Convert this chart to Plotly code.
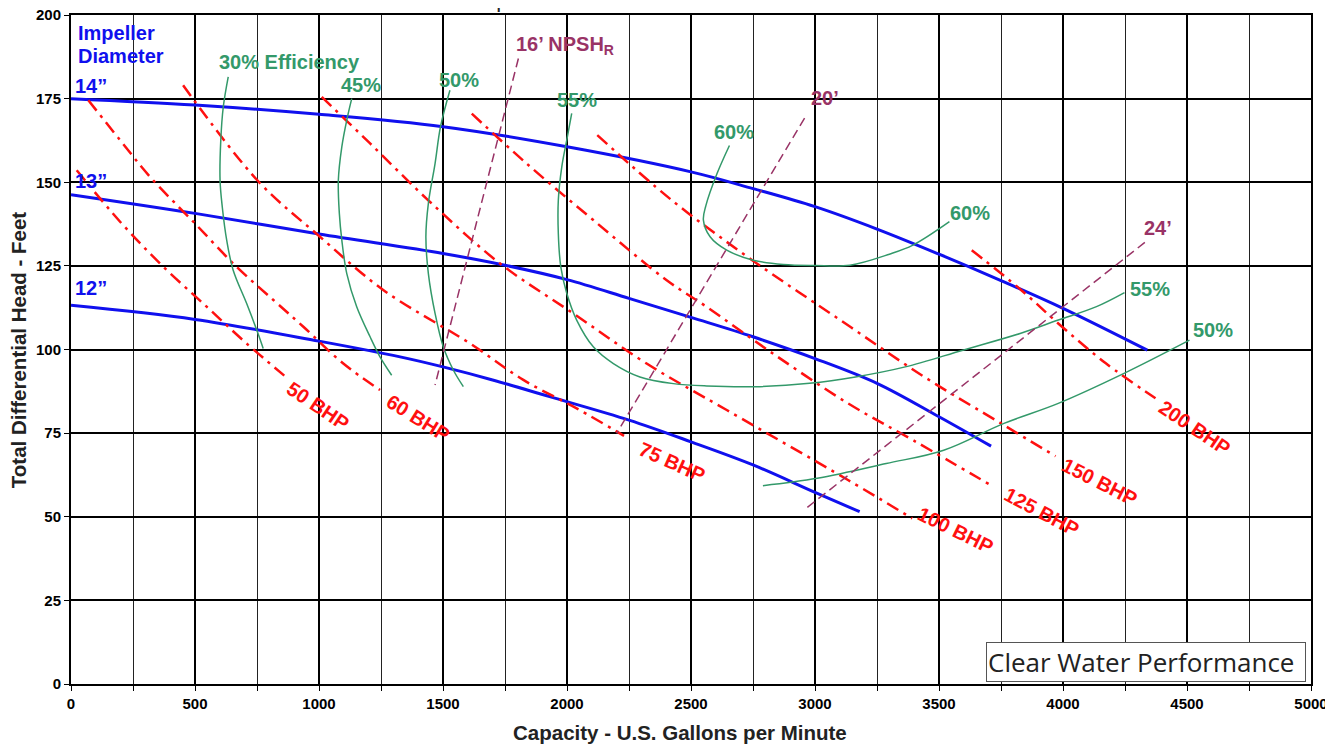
import plotly.graph_objects as go

# impeller head curves (capacity gpm, head ft)
imp14_q = [0, 500, 1000, 1500, 2000, 2500, 2750, 3000, 3250, 3500, 3750, 4000, 4340]
imp14_h = [175, 173.1, 170.3, 166.6, 160.6, 153.1, 148.1, 142.7, 136.0, 128.5, 120.6, 112.3, 99.8]
imp13_q = [0, 500, 1000, 1500, 1750, 2000, 2250, 2500, 2750, 3000, 3250, 3500, 3710]
imp13_h = [146.3, 140.7, 134.5, 128.7, 125.2, 120.9, 115.3, 109.6, 103.8, 97.3, 89.9, 79.9, 71.1]
imp12_q = [0, 500, 1000, 1327, 1500, 1700, 1930, 2250, 2500, 2750, 3000, 3180]
imp12_h = [113.2, 109.0, 102.5, 97.8, 94.8, 90.9, 85.9, 78.9, 72.4, 65.5, 57.3, 51.5]

# brake horsepower lines
bhp50_q = [23, 198, 366, 547, 708, 860]
bhp50_h = [153.6, 138.2, 125.2, 112.8, 101.8, 92.2]
bhp60_q = [70, 198, 319, 493, 668, 816, 937, 1098, 1246]
bhp60_h = [174.5, 162.6, 151.6, 138.2, 124.7, 114.8, 106.8, 95.8, 87.9]
bhp75_q = [452, 755, 1004, 1259, 1609, 1824, 2039, 2230]
bhp75_h = [179.0, 150.3, 133.7, 117.8, 101.8, 90.9, 82.4, 74.2]
bhp100_q = [1011, 1206, 1448, 1730, 2025, 2321, 2644, 3133, 3392]
bhp100_h = [175.5, 161.6, 144.1, 125.7, 110.8, 95.8, 81.9, 61.0, 49.5]
bhp125_q = [1616, 1837, 2106, 2402, 2562, 2830, 3133, 3395, 3719]
bhp125_h = [170.5, 155.6, 138.7, 120.7, 112.8, 98.8, 83.9, 72.9, 59.0]
bhp150_q = [2122, 2423, 2747, 3102, 3441, 3750, 3970]
bhp150_h = [164.1, 144.6, 126.7, 108.8, 91.8, 77.9, 68.1]
bhp200_q = [3632, 3831, 3996, 4174, 4373]
bhp200_h = [129.7, 117.8, 106.8, 95.8, 85.4]

# efficiency iso-lines
eff30_q = [634, 614, 604, 601, 610, 628, 654, 708, 749, 775]
eff30_h = [181.5, 172.5, 162.6, 150.6, 142.6, 132.6, 123.7, 113.8, 105.8, 100.3]
eff45_q = [1132, 1112, 1092, 1078, 1082, 1092, 1112, 1152, 1206, 1246, 1293]
eff45_h = [175.0, 168.6, 160.6, 150.6, 140.7, 132.7, 122.7, 112.8, 103.8, 97.8, 92.3]
eff50a_q = [1528, 1490, 1468, 1441, 1431, 1441, 1468, 1501, 1542, 1582]
eff50a_h = [177.5, 166.6, 155.6, 143.7, 133.7, 122.7, 110.8, 100.8, 93.8, 88.9]
eff55_q = [2019, 1999, 1979, 1965, 1965, 1975, 1999, 2039, 2106, 2187, 2294, 2429,
           2563, 2762, 2978, 3163, 3364, 3596, 3827, 3981, 4135, 4248]
eff55_h = [170.6, 162.6, 154.6, 144.6, 134.7, 124.7, 116.8, 108.8, 100.8, 95.8, 91.8, 89.8,
           89.1, 88.9, 89.9, 91.8, 94.8, 99.8, 104.8, 108.8, 112.8, 117.0]
eff60_q = [2655, 2605, 2560, 2550, 2577, 2644, 2751, 2872, 3000, 3141, 3300, 3395, 3542]
eff60_h = [161.0, 152.6, 143.0, 138.7, 133.7, 129.7, 126.7, 125.4, 125.1, 125.2, 128.5, 131.2, 138.2]
eff50b_q = [2790, 3009, 3287, 3519, 3762, 3981, 4244, 4510]
eff50b_h = [59.3, 61.5, 65.9, 69.9, 77.9, 83.9, 92.8, 102.8]

# NPSHr lines
npsh16_q = [1804, 1468]
npsh16_h = [187.0, 89.4]
npsh20_q = [2958, 2200]
npsh20_h = [169.2, 74.9]
npsh24_q = [4330, 2969]
npsh24_h = [132.0, 52.8]

x_ticks = list(range(0, 5001, 500))
y_ticks = list(range(0, 201, 25))

BLUE = '#1010EE'
RED = '#FF1010'
GREEN = '#33996A'
PURPLE = '#993366'
FONT = 'Liberation Sans, Arial, sans-serif'

fig = go.Figure()

for q, h in [(imp14_q, imp14_h), (imp13_q, imp13_h), (imp12_q, imp12_h)]:
    fig.add_trace(go.Scatter(x=q, y=h, mode='lines', line=dict(color=BLUE, width=3, shape='spline'),
                             hoverinfo='skip'))

for q, h in [(bhp50_q, bhp50_h), (bhp60_q, bhp60_h), (bhp75_q, bhp75_h), (bhp100_q, bhp100_h),
             (bhp125_q, bhp125_h), (bhp150_q, bhp150_h), (bhp200_q, bhp200_h)]:
    fig.add_trace(go.Scatter(x=q, y=h, mode='lines',
                             line=dict(color=RED, width=2.5, shape='spline', dash='13px,6px,3px,6px'),
                             hoverinfo='skip'))

for q, h in [(eff30_q, eff30_h), (eff45_q, eff45_h), (eff50a_q, eff50a_h), (eff55_q, eff55_h),
             (eff60_q, eff60_h), (eff50b_q, eff50b_h)]:
    fig.add_trace(go.Scatter(x=q, y=h, mode='lines', line=dict(color=GREEN, width=1.5, shape='spline'),
                             hoverinfo='skip'))

for q, h in [(npsh16_q, npsh16_h), (npsh20_q, npsh20_h), (npsh24_q, npsh24_h)]:
    fig.add_trace(go.Scatter(x=q, y=h, mode='lines', line=dict(color=PURPLE, width=1.5, dash='9px,5px'),
                             hoverinfo='skip'))

annotations = []


def label(x, y, text, color, size=20, angle=0, xanchor='center'):
    annotations.append(dict(x=x, y=y, text=text, showarrow=False, textangle=angle, xanchor=xanchor,
                            font=dict(family=FONT, size=size, color=color, weight='bold')))


label(22, 194.6, 'Impeller', BLUE, xanchor='left')
label(22, 187.7, 'Diameter', BLUE, xanchor='left')
label(8, 178.9, '14”', BLUE, xanchor='left')
label(8, 150.4, '13”', BLUE, xanchor='left')
label(8, 118.3, '12”', BLUE, xanchor='left')

for x, y, t, a in [(996, 83.1, '50 BHP', 34), (1399, 79.5, '60 BHP', 32), (2423, 66.3, '75 BHP', 24),
                   (3565, 46.0, '100 BHP', 26), (3915, 51.4, '125 BHP', 28),
                   (4149, 60.4, '150 BHP', 27), (4532, 76.5, '200 BHP', 34)]:
    label(x, y, t, RED, angle=a)

for x, y, t in [(883, 185.9, '30% Efficiency'), (1169, 179.0, '45%'), (1565, 180.5, '50%'),
                (2040, 174.5, '55%'), (2673, 165.0, '60%'), (3625, 140.8, '60%'),
                (4351, 118.0, '55%'), (4605, 105.8, '50%')]:
    label(x, y, t, GREEN)

label(1992, 191.0, '16’ NPSH<sub>R</sub>', PURPLE)
label(3040, 175.3, '20’', PURPLE)
label(4383, 136.3, '24’', PURPLE)

annotations.append(dict(x=4335, y=6.6, text='Clear Water Performance', showarrow=False,
                        font=dict(family='Open Sans, sans-serif', size=26, color='#222222'),
                        bgcolor='white', bordercolor='#555555', borderwidth=1, borderpad=1,
                        width=316, height=36, align='left'))

# axis titles
annotations.append(dict(xref='paper', yref='paper', x=0.491, y=-0.0732, xanchor='center',
                        yanchor='middle', text='Capacity - U.S. Gallons per Minute', showarrow=False,
                        font=dict(family=FONT, size=20.5, color='#222222', weight='bold')))
annotations.append(dict(xref='paper', yref='paper', x=-0.0427, y=0.499, xanchor='center',
                        yanchor='middle', textangle=-90,
                        text='Total Differential Head - Feet', showarrow=False,
                        font=dict(family=FONT, size=20.5, color='#222222', weight='bold')))

# header text cut off at the top of the sheet
annotations.append(dict(xref='paper', yref='paper', x=-0.003, y=1, yshift=16, xanchor='left',
                        yanchor='middle', text='Curve: 594', showarrow=False,
                        font=dict(family=FONT, size=22, color='#222222')))
annotations.append(dict(xref='paper', yref='paper', x=0.291, y=1, yshift=16, xanchor='left',
                        yanchor='middle', text='Max Sphere: 2 in.', showarrow=False,
                        font=dict(family=FONT, size=22, color='#222222')))

# the page body adds an 8px offset, so the margins absorb it
fig.update_layout(
    width=1333, height=744,
    margin=dict(l=63, r=30, t=7, b=68),
    plot_bgcolor='white', paper_bgcolor='white',
    showlegend=False,
    annotations=annotations,
    xaxis=dict(
        range=[0, 5000], tickvals=x_ticks, ticks='outside', ticklen=5, tickcolor='black',
        showgrid=True, gridcolor='black', gridwidth=1.5, automargin=False,
        ticklabeloverflow='allow',
        minor=dict(dtick=250, showgrid=True, gridcolor='#222222', gridwidth=1, ticks='outside',
                   ticklen=5, tickcolor='black'),
        showline=True, linecolor='black', linewidth=2, mirror=True, zeroline=False,
        tickfont=dict(family=FONT, size=15, color='black', weight='bold'),
    ),
    yaxis=dict(
        range=[0, 200], tickvals=y_ticks, ticks='outside', ticklen=5, tickcolor='black',
        showgrid=True, gridcolor='black', gridwidth=1.5, automargin=False,
        ticklabeloverflow='allow',
        showline=True, linecolor='black', linewidth=2, mirror=True, zeroline=False,
        tickfont=dict(family=FONT, size=15, color='black', weight='bold'),
    ),
)

fig.write_html('out.html')
